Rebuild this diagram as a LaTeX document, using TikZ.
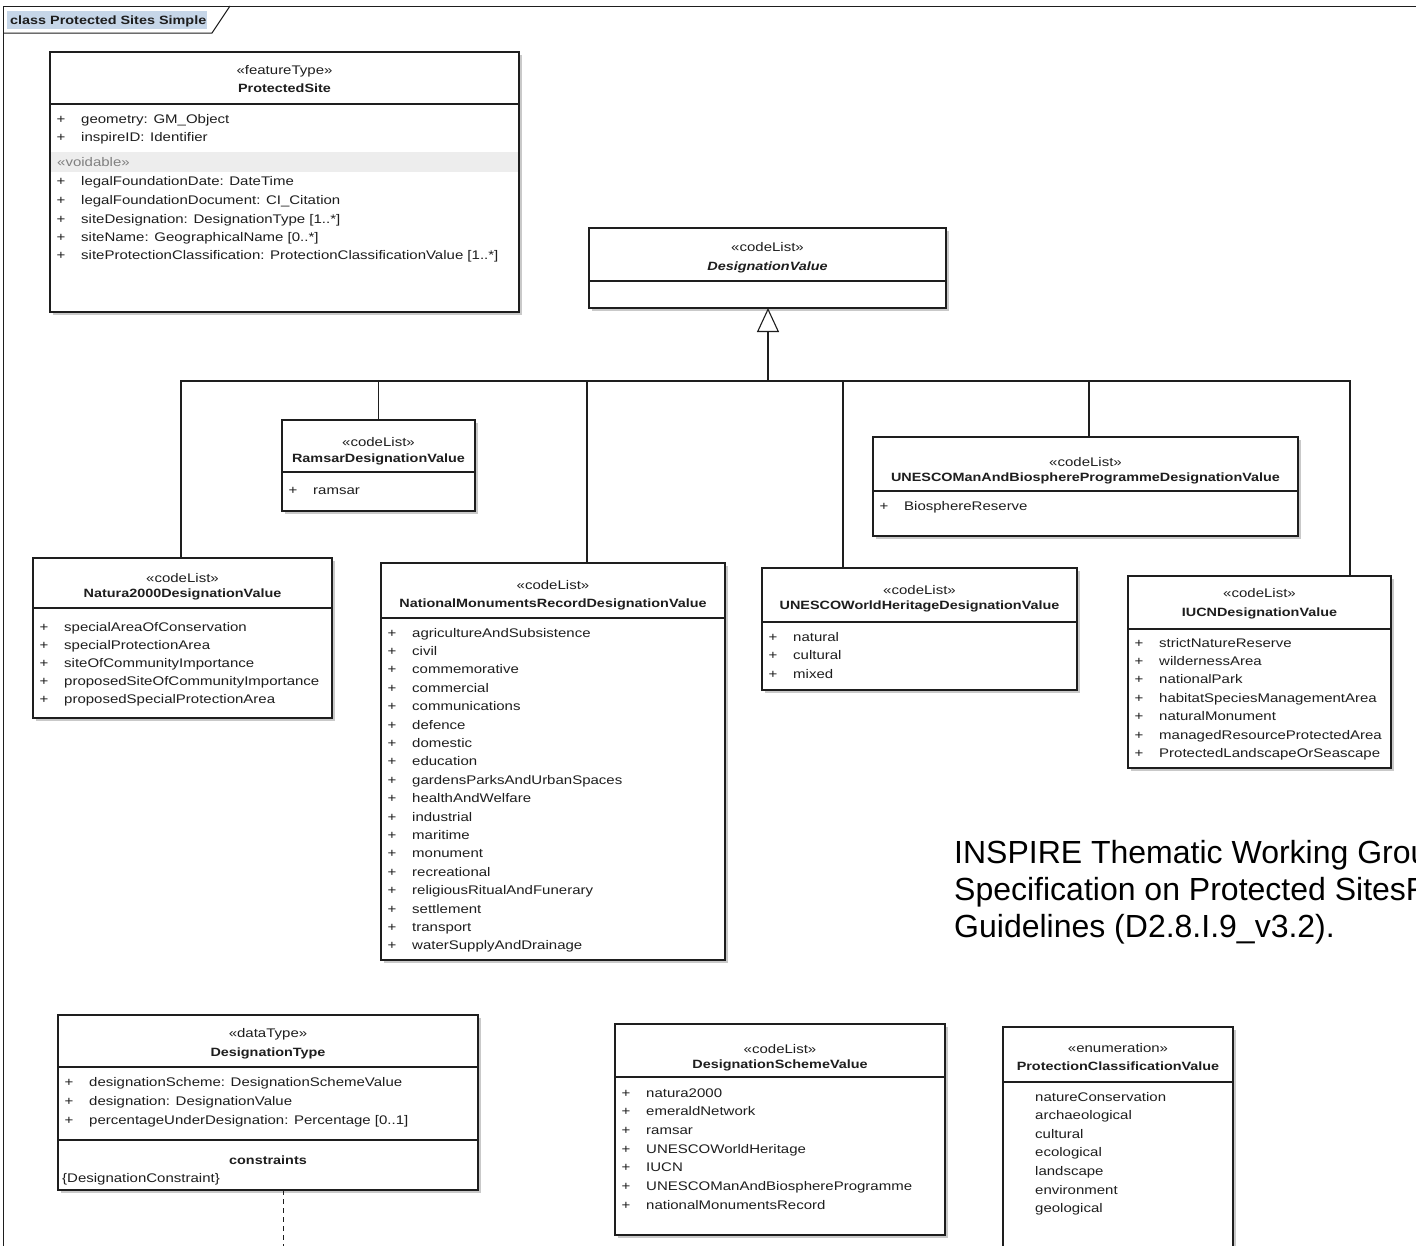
\documentclass[tikz,border=0pt]{standalone}
\usepackage{fontspec}
\setmainfont{Liberation Sans}
\newfontfamily\umlf[FakeStretch=1.2]{Liberation Sans}
\usetikzlibrary{arrows.meta,shadows}
\definecolor{tabbg}{RGB}{198,214,232}
\definecolor{ink}{RGB}{30,30,30}
\newcounter{tx}
\tikzset{
 clsbox/.style={draw=ink, line width=1.1pt, fill=white, inner sep=0pt, outer sep=0pt,
   drop shadow={shadow xshift=3pt, shadow yshift=-3pt, fill=black!35, opacity=0.6}},
 sepline/.style={draw=ink, line width=1.1pt},
 conn/.style={draw=ink, line width=1.1pt},
 frameline/.style={draw=ink, line width=1pt},
 atxt/.style={inner sep=0pt, font=\umlf\fontsize{12.5}{15}\selectfont, text=ink},
 ntxt/.style={inner sep=0pt, font=\umlf\bfseries\fontsize{12}{14}\selectfont, text=ink},
}
\newcommand\umlcls[6]{%
 \node[clsbox, anchor=north west, minimum width={(#4-#2)*1pt}, minimum height={(#5-#3)*1pt}] (#1) at (#2,#3) {};
 \draw[sepline] (#2,#6) -- (#4,#6);}
\newcommand\clshead[6]{%
 \stepcounter{tx}\node[atxt, anchor=base] (s\arabic{tx}) at ({(#1+#2)/2},#3+4) {«#5»};
 \node[ntxt, anchor=base] (n\arabic{tx}) at ({(#1+#2)/2},#4+4) {#6};}
\newcommand\attr[3]{%
 \stepcounter{tx}\node[atxt, anchor=base] (p\arabic{tx}) at (#1+11,#2+4) {+};
 \node[atxt, anchor=base west] (a\arabic{tx}) at (#1+31,#2+4) {#3};}
\newcommand\lit[3]{%
 \stepcounter{tx}\node[atxt, anchor=base west] (l\arabic{tx}) at (#1,#2+4) {#3};}
\newcommand\cs{:\hspace{0.45em}}
\begin{document}
\begin{tikzpicture}[x=1pt,y=-1pt]
\useasboundingbox (0,0) rectangle (1416,1245);
\fill[white] (0,0) rectangle (1416,1245);
% frame and tab
\fill[tabbg] (7,11) rectangle (207,29);
\node[ntxt, anchor=base west] (title) at (10,24) {class Protected Sites Simple};
\draw[frameline] (3,1250) -- (3,6) -- (1416,6);
\draw[frameline] (3,33) -- (212,33) -- (230,6);

% ProtectedSite
\umlcls{ps}{50}{52}{519}{312}{104}
\fill[black!7] (51,152) rectangle (518,172);
\clshead{50}{519}{70}{88}{featureType}{ProtectedSite}
\attr{50}{119}{geometry\cs GM\_Object}
\attr{50}{137}{inspireID\cs Identifier}
\node[atxt, anchor=base west, text=black!50] (vd) at (57,166) {«voidable»};
\attr{50}{181}{legalFoundationDate\cs DateTime}
\attr{50}{200}{legalFoundationDocument\cs CI\_Citation}
\attr{50}{219}{siteDesignation\cs DesignationType [1..*]}
\attr{50}{237}{siteName\cs GeographicalName [0..*]}
\attr{50}{255}{siteProtectionClassification\cs ProtectionClassificationValue [1..*]}

% DesignationValue
\umlcls{dv}{589}{228}{946}{308}{281}
\clshead{589}{946}{247}{266}{codeList}{\itshape DesignationValue}

% Ramsar
\umlcls{ram}{282}{420}{475}{511}{472}
\clshead{282}{475}{442}{458}{codeList}{RamsarDesignationValue}
\attr{282}{490}{ramsar}

% UNESCO MAB
\umlcls{mab}{873}{437}{1298}{536}{491}
\clshead{873}{1298}{462}{477}{codeList}{UNESCOManAndBiosphereProgrammeDesignationValue}
\attr{873}{506}{BiosphereReserve}

% Natura2000
\umlcls{nat}{33}{558}{332}{718}{608}
\clshead{33}{332}{578}{593}{codeList}{Natura2000DesignationValue}
\foreach \t [count=\i from 0] in {specialAreaOfConservation,specialProtectionArea,siteOfCommunityImportance,proposedSiteOfCommunityImportance,proposedSpecialProtectionArea}
 {\attr{33}{627+18*\i}{\t}}

% National Monuments Record
\umlcls{nmr}{381}{563}{725}{960}{618}
\clshead{381}{725}{585}{603}{codeList}{NationalMonumentsRecordDesignationValue}
\foreach \t [count=\i from 0] in {agricultureAndSubsistence,civil,commemorative,commercial,communications,defence,domestic,education,gardensParksAndUrbanSpaces,healthAndWelfare,industrial,maritime,monument,recreational,religiousRitualAndFunerary,settlement,transport,waterSupplyAndDrainage}
 {\attr{381}{633+18.4*\i}{\t}}

% UNESCO World Heritage
\umlcls{wh}{762}{568}{1077}{690}{622}
\clshead{762}{1077}{590}{605}{codeList}{UNESCOWorldHeritageDesignationValue}
\foreach \t [count=\i from 0] in {natural,cultural,mixed}
 {\attr{762}{637+18.5*\i}{\t}}

% IUCN
\umlcls{iucn}{1128}{576}{1391}{768}{629}
\clshead{1128}{1391}{593}{612}{codeList}{IUCNDesignationValue}
\foreach \t [count=\i from 0] in {strictNatureReserve,wildernessArea,nationalPark,habitatSpeciesManagementArea,naturalMonument,managedResourceProtectedArea,ProtectedLandscapeOrSeascape}
 {\attr{1128}{643+18.4*\i}{\t}}

% generalization
\coordinate (busL) at (181,381);
\coordinate (busR) at (1350,381);
\coordinate (busM) at (768,381);
\draw[conn] (nat.north -| busL) -- (busL) -- (busR) -- (iucn.north -| busR);
\draw[conn] (ram.north) -- (ram.north |- busL);
\draw[conn] (nmr.north -| 587,0) -- (587,381);
\draw[conn] (wh.north -| 843,0) -- (843,381);
\draw[conn] (mab.north -| 1089,0) -- (1089,381);
\draw[conn, -{Triangle[open, length=24pt, width=22pt, line width=1.1pt]}] (busM) -- (dv.south -| busM);

% DesignationType
\umlcls{dt}{58}{1015}{478}{1190}{1067}
\draw[sepline] (58,1140) -- (478,1140);
\clshead{58}{478}{1033}{1052}{dataType}{DesignationType}
\attr{58}{1082}{designationScheme\cs DesignationSchemeValue}
\attr{58}{1101}{designation\cs DesignationValue}
\attr{58}{1120}{percentageUnderDesignation\cs Percentage [0..1]}
\node[ntxt, anchor=base] (cons) at (268,1164) {constraints};
\node[atxt, anchor=base west] (dcons) at (62,1182) {\{DesignationConstraint\}};
\coordinate (dtend) at (283,1250);
\draw[conn, dashed, line width=1pt, dash pattern=on 5pt off 4pt] (dt.south -| dtend) -- (dtend);

% DesignationSchemeValue
\umlcls{dsv}{615}{1024}{945}{1235}{1077}
\clshead{615}{945}{1049}{1064}{codeList}{DesignationSchemeValue}
\foreach \t [count=\i from 0] in {natura2000,emeraldNetwork,ramsar,UNESCOWorldHeritage,IUCN,UNESCOManAndBiosphereProgramme,nationalMonumentsRecord}
 {\attr{615}{1093+18.7*\i}{\t}}

% ProtectionClassificationValue
\umlcls{pcv}{1003}{1027}{1233}{1260}{1082}
\clshead{1003}{1233}{1048}{1066}{enumeration}{ProtectionClassificationValue}
\foreach \t [count=\i from 0] in {natureConservation,archaeological,cultural,ecological,landscape,environment,geological}
 {\lit{1035}{1097+18.6*\i}{\t}}

% citation text
\begin{scope}
\clip (0,0) rectangle (1416,1245);
\node[inner sep=0pt, anchor=base west, font=\fontsize{32}{37}\selectfont] (c1) at (954,863) {INSPIRE Thematic Working Group};
\node[inner sep=0pt, anchor=base west, font=\fontsize{32}{37}\selectfont] (c2) at (954,900) {Specification on Protected SitesF};
\node[inner sep=0pt, anchor=base west, font=\fontsize{32}{37}\selectfont] (c3) at (954,937) {Guidelines (D2.8.I.9\_v3.2).};
\end{scope}
\end{tikzpicture}
\end{document}
